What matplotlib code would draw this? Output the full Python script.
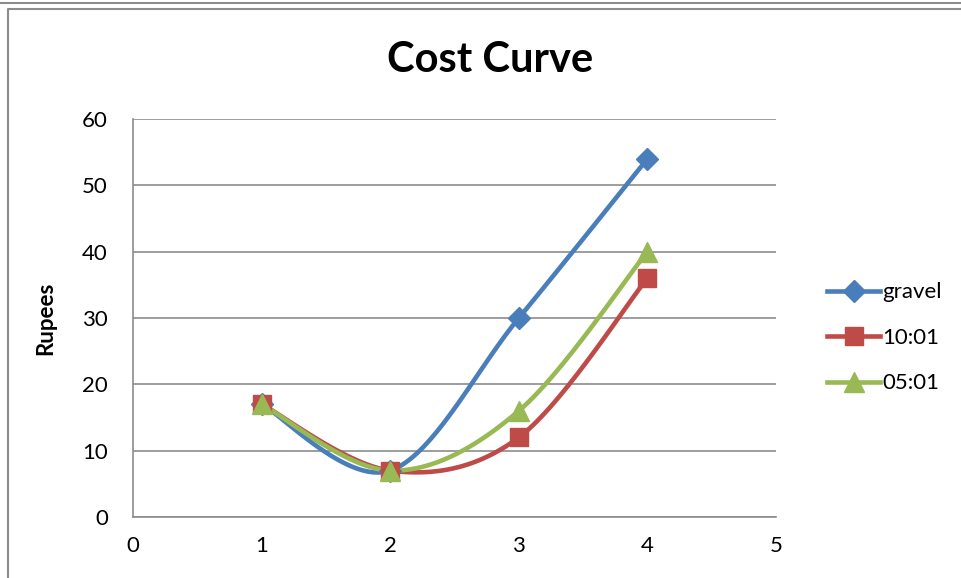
import matplotlib
matplotlib.use("Agg")
import matplotlib.pyplot as plt
from matplotlib.lines import Line2D
import numpy as np

plt.rcParams['font.family'] = ['Lato', 'DejaVu Sans']

x_vals = [1, 2, 3, 4]
gravel = [17, 7, 30, 54]
ratio_10 = [17, 7, 12, 36]
ratio_5 = [17, 7, 16, 40]

series = [
    ('gravel', gravel, '#4A7EBB', 'D', 11),
    ('10:01', ratio_10, '#BE4B48', 's', 13),
    ('05:01', ratio_5, '#98B954', '^', 14),
]


def smooth(xs, ys, n=40):
    # Bezier smoothing through the points, like a spreadsheet "smoothed line"
    xs = np.asarray(xs, float)
    ys = np.asarray(ys, float)
    px = np.concatenate([[xs[0]], xs, [xs[-1]]])
    py = np.concatenate([[ys[0]], ys, [ys[-1]]])
    out_x, out_y = [], []
    t = np.linspace(0, 1, n)
    for i in range(1, len(px) - 2):
        p0 = np.array([px[i], py[i]])
        p3 = np.array([px[i + 1], py[i + 1]])
        c1 = p0 + (np.array([px[i + 1], py[i + 1]]) - np.array([px[i - 1], py[i - 1]])) / 6
        c2 = p3 - (np.array([px[i + 2], py[i + 2]]) - np.array([px[i], py[i]])) / 6
        b = ((1 - t) ** 3)[:, None] * p0 + (3 * (1 - t) ** 2 * t)[:, None] * c1 \
            + (3 * (1 - t) * t ** 2)[:, None] * c2 + (t ** 3)[:, None] * p3
        out_x.extend(b[:, 0])
        out_y.extend(b[:, 1])
    return out_x, out_y


fig = plt.figure(figsize=(9.61, 5.78), dpi=100)
ax = fig.add_axes([0.1384, 0.1055, 0.6691, 0.6886])

for label, ys, color, marker, ms in series:
    sx, sy = smooth(x_vals, ys)
    ax.plot(sx, sy, color=color, lw=3.3, solid_capstyle='round', zorder=3)
    ax.plot(x_vals, ys, linestyle='none', marker=marker, color=color,
            markersize=ms, zorder=4)

ax.set_xlim(0, 5)
ax.set_ylim(0, 60)
ax.set_xticks(range(0, 6))
ax.set_yticks(range(0, 61, 10))
ax.grid(axis='y', color='#8C8C8C', lw=1.2)
ax.set_axisbelow(True)
for side in ('top', 'right'):
    ax.spines[side].set_visible(False)
for side in ('left', 'bottom'):
    ax.spines[side].set_color('#8C8C8C')
    ax.spines[side].set_linewidth(1.2)
ax.tick_params(length=0, labelsize=16, pad=14)
ax.tick_params(axis='y', pad=18)

ax.set_ylabel('Rupees', fontsize=16, fontweight='bold')
ax.yaxis.set_label_coords(-0.12, 0.5)
fig.text(0.51, 0.897, 'Cost Curve', ha='center', va='center',
         fontsize=30, fontweight='bold')

handles = [Line2D([], [], color=c, lw=3.3, marker=m, markersize=ms)
           for _, _, c, m, ms in series]
ax.legend(handles, [s[0] for s in series], loc='center left',
          bbox_to_anchor=(1.048, 0.45), frameon=False, fontsize=16,
          handlelength=2.4, handletextpad=0.1, labelspacing=1.15)

# chart frame
fig.add_artist(Line2D([0, 1], [1 - 3 / 578] * 2, color='#8C8C8C', lw=1.5))
fig.add_artist(Line2D([8 / 961, 8 / 961, 1], [0, 1 - 9 / 578, 1 - 9 / 578],
                      color='#8C8C8C', lw=1.5))

fig.savefig('out.png', dpi=100)
